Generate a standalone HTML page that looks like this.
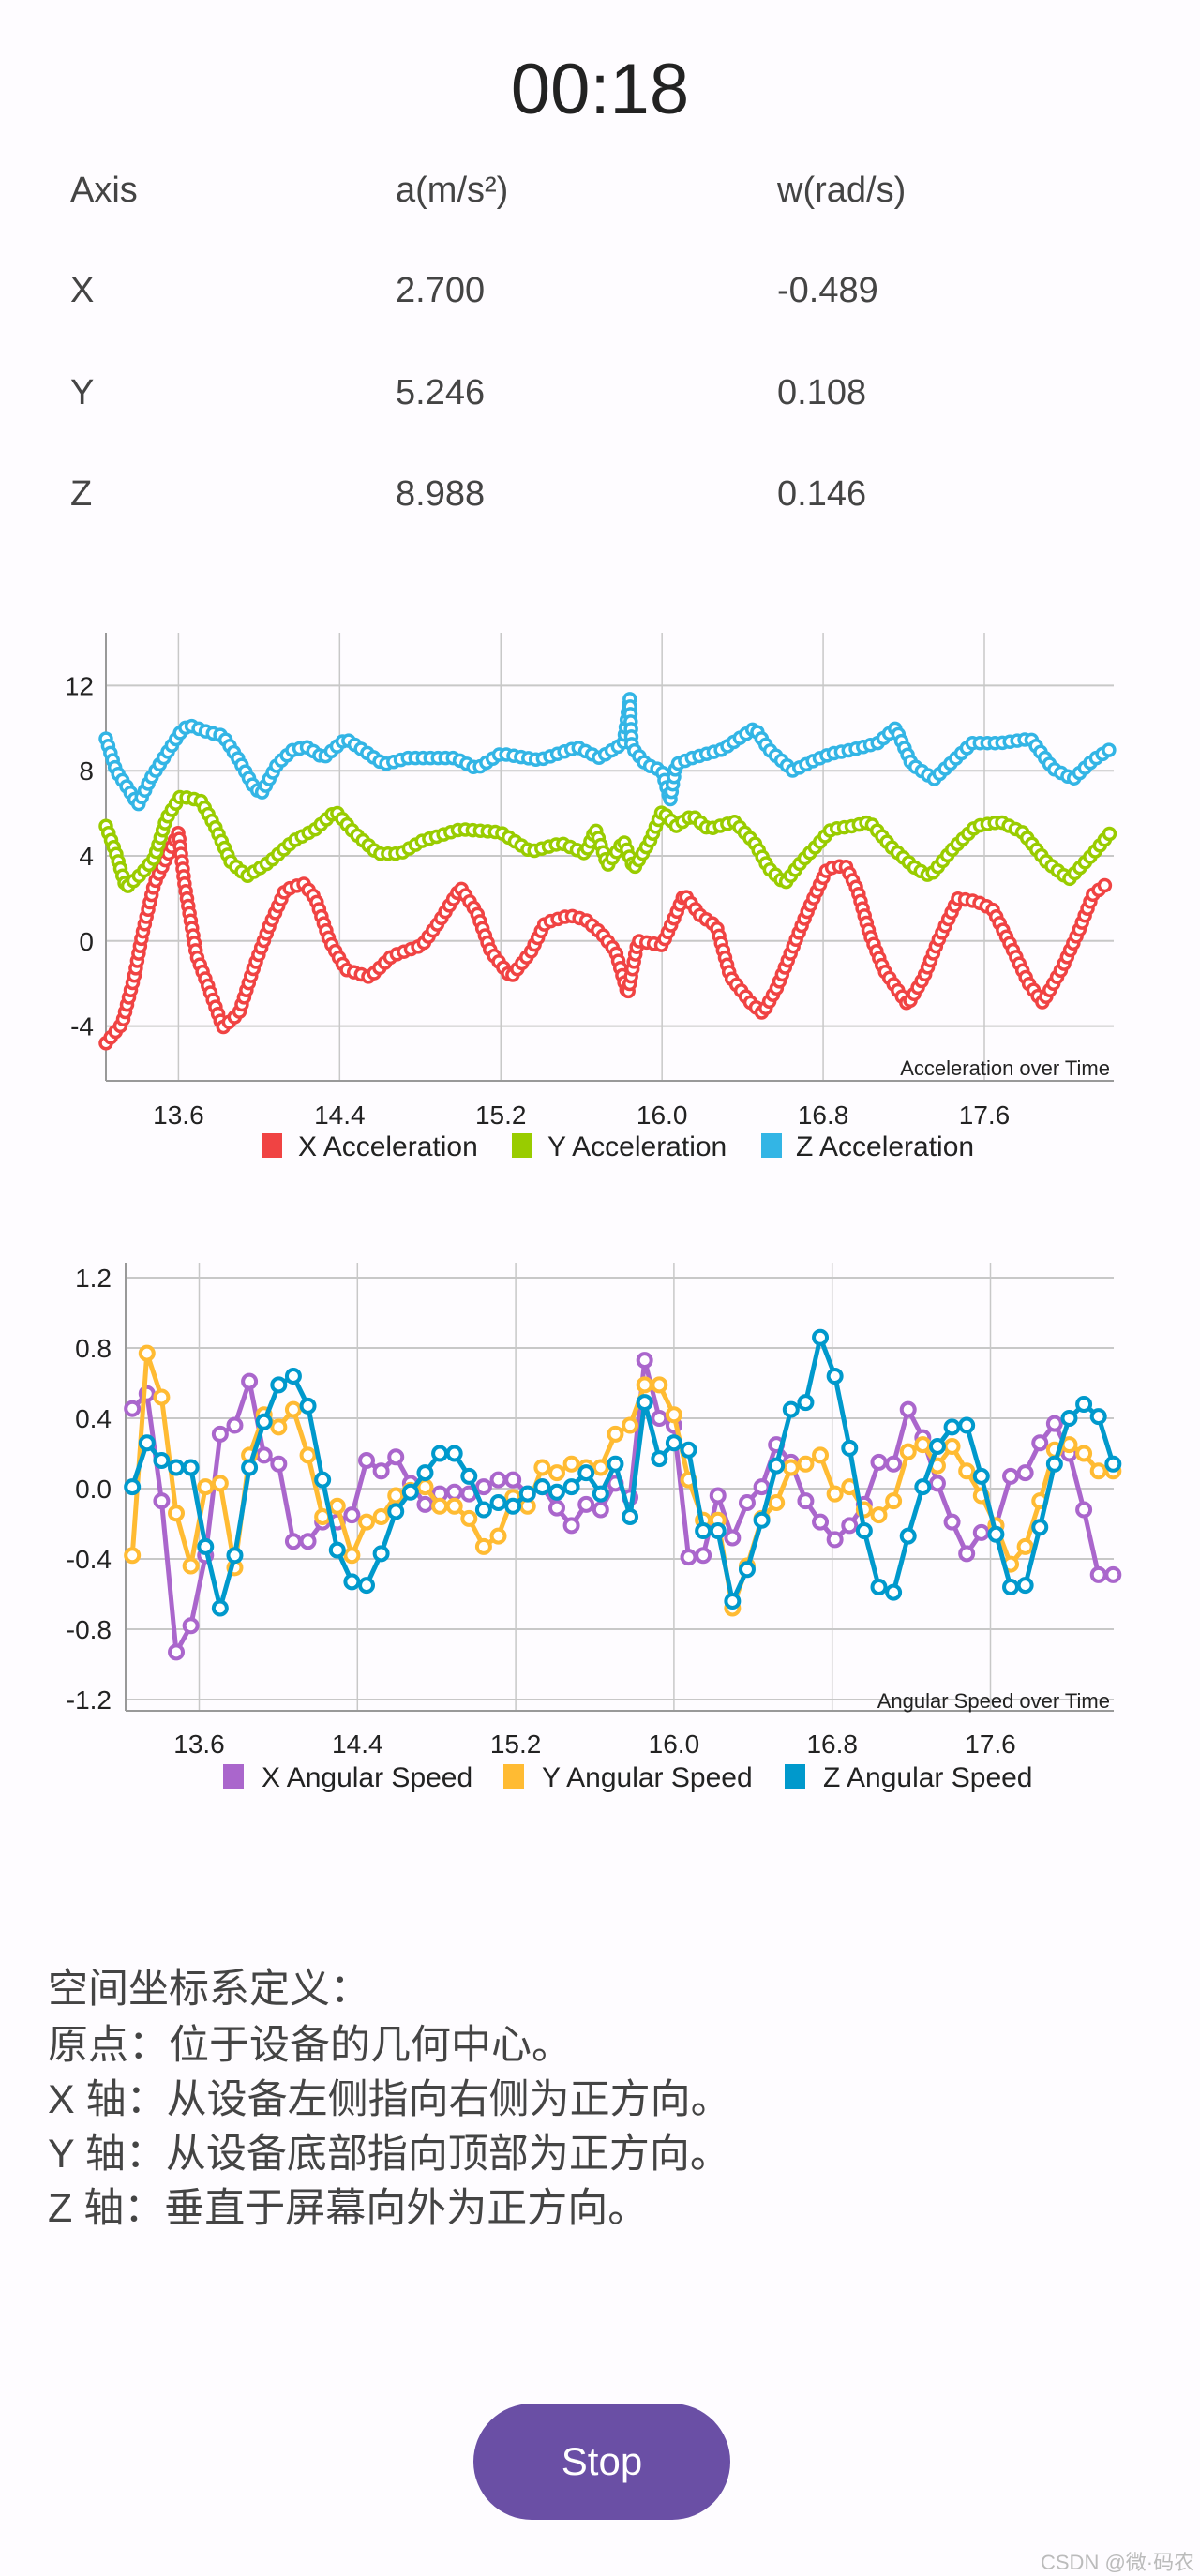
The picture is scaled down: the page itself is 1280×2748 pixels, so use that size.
<!DOCTYPE html>
<html><head><meta charset="utf-8">
<style>
html,body{margin:0;padding:0;background:#fefcff;}
body{width:1280px;height:2747px;position:relative;overflow:hidden;font-family:"Liberation Sans","Noto Sans CJK SC",sans-serif;color:#444;}
.abs{position:absolute;white-space:nowrap;}
.cell{font-size:38px;line-height:40px;}
.cn{font-size:43px;left:51px;line-height:50px;color:#444;}
</style></head><body>
<div class="abs" style="left:0;width:1280px;text-align:center;top:56px;font-size:76px;line-height:80px;color:#222;">00:18</div>

<div class="abs cell" style="left:75px;top:183px;">Axis</div>
<div class="abs cell" style="left:422px;top:183px;">a(m/s²)</div>
<div class="abs cell" style="left:829px;top:183px;">w(rad/s)</div>
<div class="abs cell" style="left:75px;top:290px;">X</div>
<div class="abs cell" style="left:422px;top:290px;">2.700</div>
<div class="abs cell" style="left:829px;top:290px;">-0.489</div>
<div class="abs cell" style="left:75px;top:399px;">Y</div>
<div class="abs cell" style="left:422px;top:399px;">5.246</div>
<div class="abs cell" style="left:829px;top:399px;">0.108</div>
<div class="abs cell" style="left:75px;top:507px;">Z</div>
<div class="abs cell" style="left:422px;top:507px;">8.988</div>
<div class="abs cell" style="left:829px;top:507px;">0.146</div>

<svg id="charts" width="1280" height="2000" style="position:absolute;left:0;top:0;" xmlns="http://www.w3.org/2000/svg"></svg>

<div class="abs cn" style="top:2097px;">空间坐标系定义：</div>
<div class="abs cn" style="top:2157px;">原点：位于设备的几何中心。</div>
<div class="abs cn" style="top:2215px;">X 轴：从设备左侧指向右侧为正方向。</div>
<div class="abs cn" style="top:2273px;">Y 轴：从设备底部指向顶部为正方向。</div>
<div class="abs cn" style="top:2331px;">Z 轴：垂直于屏幕向外为正方向。</div>

<div class="abs" style="left:505px;top:2564px;width:274px;height:124px;border-radius:62px;background:#6a4fa5;color:#fff;font-size:42px;line-height:124px;text-align:center;">Stop</div>
<div class="abs" style="left:1110px;top:2716px;font-size:22px;color:#bbb;">CSDN @微·码农</div>

<script>
// ---------- Acceleration chart data ----------
const accXTimes = [13.24,13.32,13.38,13.42,13.48,13.53,13.6,13.63,13.69,13.75,13.82,13.9,13.97,14.05,14.13,14.22,14.28,14.35,14.43,14.55,14.66,14.81,14.89,15.0,15.08,15.15,15.25,15.35,15.42,15.54,15.62,15.7,15.77,15.83,15.88,16.0,16.08,16.11,16.19,16.27,16.34,16.44,16.5,16.57,16.65,16.72,16.82,16.91,16.97,17.03,17.1,17.22,17.3,17.37,17.47,17.56,17.64,17.72,17.82,17.89,17.99,18.07,18.14,18.21];
const accXValues = [-4.8,-3.9,-1.7,0.3,2.7,3.7,5.1,2.7,-0.7,-2.2,-4.06,-3.4,-1.35,0.68,2.4,2.7,2.0,0,-1.35,-1.7,-0.7,-0.2,0.85,2.5,1.35,-0.5,-1.7,-0.5,0.85,1.2,1.0,0.35,-0.5,-2.5,0,-0.2,1.5,2.2,1.2,0.7,-1.7,-2.9,-3.4,-2.2,-0.3,1.35,3.4,3.55,2.4,0.35,-1.35,-3.0,-1.7,0,2.0,1.86,1.5,0,-2.0,-2.9,-1.2,0.5,2.2,2.7];
const accYTimes = [13.24,13.29,13.34,13.42,13.48,13.54,13.61,13.71,13.78,13.86,13.94,14.05,14.17,14.28,14.38,14.47,14.59,14.7,14.81,15.0,15.2,15.35,15.5,15.62,15.67,15.73,15.81,15.86,15.94,16.0,16.07,16.15,16.23,16.36,16.46,16.53,16.61,16.69,16.76,16.84,16.95,17.03,17.14,17.26,17.33,17.45,17.56,17.68,17.79,17.91,18.02,18.14,18.24];
const accYValues = [5.4,4.1,2.5,3.2,3.9,5.75,6.8,6.6,5.4,3.7,3.05,3.7,4.7,5.25,6.1,5.1,4.1,4.1,4.7,5.25,5.1,4.2,4.6,4.1,5.25,3.55,4.7,3.4,4.7,6.1,5.4,5.9,5.25,5.6,4.6,3.4,2.7,3.7,4.4,5.25,5.4,5.6,4.4,3.4,3.05,4.4,5.4,5.6,5.1,3.7,2.9,4.1,5.25];
const accZTimes = [13.24,13.29,13.34,13.4,13.46,13.52,13.61,13.65,13.75,13.82,13.9,13.97,14.01,14.09,14.17,14.24,14.32,14.43,14.51,14.62,14.74,14.85,14.97,15.08,15.2,15.39,15.58,15.69,15.81,15.84,15.85,15.92,16.0,16.04,16.07,16.15,16.3,16.46,16.53,16.65,16.76,16.84,16.95,17.07,17.16,17.24,17.35,17.45,17.54,17.68,17.83,17.94,18.04,18.14,18.24];
const accZValues = [9.5,8.0,7.3,6.4,7.6,8.5,9.8,10.15,9.8,9.65,8.5,7.3,6.9,8.3,9.0,9.1,8.6,9.5,9.0,8.3,8.6,8.6,8.6,8.1,8.8,8.5,9.1,8.6,9.3,11.4,9.1,8.3,8.0,6.6,8.3,8.6,9.0,10.0,9.0,8.0,8.5,8.8,9.0,9.3,10.0,8.3,7.6,8.5,9.3,9.3,9.5,8.1,7.6,8.5,9.1];
const accYTicks = [-4,0,4,8,12];
const accXTicks = [13.6,14.4,15.2,16.0,16.8,17.6];
const accXTickLabels = ["13.6","14.4","15.2","16.0","16.8","17.6"];

// ---------- Angular speed chart data ----------
const angStart = 13.262;
const angStep = 0.074;
const angXValues = [0.455,0.54,-0.07,-0.93,-0.78,-0.38,0.31,0.36,0.61,0.19,0.14,-0.30,-0.30,-0.19,-0.19,-0.15,0.16,0.10,0.18,0.03,-0.09,-0.03,-0.02,-0.03,0.01,0.05,0.05,-0.03,0.01,-0.11,-0.21,-0.09,-0.12,0.03,-0.05,0.73,0.40,0.36,-0.39,-0.38,-0.04,-0.28,-0.08,0.01,0.25,0.15,-0.07,-0.19,-0.29,-0.21,-0.09,0.15,0.14,0.45,0.29,0.03,-0.19,-0.37,-0.25,-0.21,0.07,0.09,0.26,0.37,0.20,-0.12,-0.49,-0.49];
const angYValues = [-0.38,0.77,0.52,-0.14,-0.44,0.01,0.03,-0.45,0.19,0.42,0.35,0.45,0.19,-0.16,-0.10,-0.38,-0.19,-0.16,-0.04,-0.01,0.01,-0.10,-0.10,-0.17,-0.33,-0.27,-0.05,-0.10,0.12,0.09,0.14,0.12,0.12,0.31,0.36,0.59,0.59,0.42,0.05,-0.18,-0.18,-0.68,-0.44,-0.17,-0.08,0.12,0.14,0.19,-0.03,0.01,-0.12,-0.15,-0.07,0.21,0.25,0.13,0.24,0.10,-0.04,-0.21,-0.43,-0.33,-0.07,0.22,0.25,0.20,0.10,0.10];
const angZValues = [0.01,0.26,0.16,0.12,0.12,-0.33,-0.68,-0.38,0.12,0.38,0.59,0.64,0.47,0.05,-0.35,-0.53,-0.55,-0.37,-0.13,-0.02,0.09,0.20,0.20,0.07,-0.12,-0.08,-0.10,-0.03,0.01,-0.02,0.01,0.09,-0.03,0.14,-0.16,0.49,0.17,0.26,0.22,-0.24,-0.24,-0.64,-0.46,-0.18,0.13,0.45,0.49,0.86,0.64,0.23,-0.24,-0.56,-0.59,-0.27,0.01,0.24,0.35,0.36,0.07,-0.26,-0.56,-0.55,-0.22,0.14,0.40,0.48,0.41,0.14];
const angYTicks = [-1.2,-0.8,-0.4,0.0,0.4,0.8,1.2];
const angYTickLabels = ["-1.2","-0.8","-0.4","0.0","0.4","0.8","1.2"];
const angXTicks = [13.6,14.4,15.2,16.0,16.8,17.6];
const angXTickLabels = ["13.6","14.4","15.2","16.0","16.8","17.6"];

const NS = "http://www.w3.org/2000/svg";
const svg = document.getElementById('charts');
function mk(tag, attrs, parent){ const e=document.createElementNS(NS,tag); for(const k in attrs) e.setAttribute(k,attrs[k]); (parent||svg).appendChild(e); return e; }

const ax1 = { x: t => 190.4 + (t-13.6)*214.9, y: v => 1003.8 - v*22.7, left:113, right:1188, top:675, bottom:1153 };
const ax2 = { x: t => 212.5 + (t-13.6)*211.0, y: v => 1588 - v*187.5, left:134, right:1188, top:1347, bottom:1825 };

function drawFrame(ax, yTicks, yLabels, xTicks, xLabels, labelRight, xLabelY, prefix){
  xTicks.forEach((t,i)=>{
    const g = mk('line',{x1:ax.x(t),x2:ax.x(t),y1:ax.top,y2:ax.bottom,stroke:'#c8c8c8','stroke-width':1.5});
    
    
    const tx = mk('text',{x:ax.x(t),y:xLabelY,'text-anchor':'middle','font-size':28,fill:'#222','font-family':'Liberation Sans, sans-serif'});
    tx.textContent = xLabels[i];
    
    
  });
  yTicks.forEach((v,i)=>{
    const g = mk('line',{x1:ax.left,x2:ax.right,y1:ax.y(v),y2:ax.y(v),stroke:'#c8c8c8','stroke-width':2});
    
    
    const tx = mk('text',{x:labelRight,y:ax.y(v)+10,'text-anchor':'end','font-size':28,fill:'#222','font-family':'Liberation Sans, sans-serif'});
    tx.textContent = yLabels[i];
    
    
  });
  const a1 = mk('line',{x1:ax.left,x2:ax.left,y1:ax.top,y2:ax.bottom,stroke:'#999','stroke-width':2});
  
  
  const a2 = mk('line',{x1:ax.left,x2:ax.right,y1:ax.bottom,y2:ax.bottom,stroke:'#999','stroke-width':2});
  
  
}

function drawDenseSeries(ax, times, vals, color, name){
  const d = times.map((t,i)=>(i?'L':'M')+ax.x(t).toFixed(1)+','+ax.y(vals[i]).toFixed(1)).join(' ');
  const p = mk('path',{d:d,fill:'none',stroke:color,'stroke-width':4,'stroke-linejoin':'round'});
  
  
  const L = p.getTotalLength();
  for(let s=0; s<=L; s+=8){
    const pt = p.getPointAtLength(s);
    const c = mk('circle',{cx:pt.x,cy:pt.y,r:6,fill:'#fff',stroke:color,'stroke-width':3.5});
    
    
  }
}

function drawSeries(ax, vals, color, name){
  const xs = vals.map((v,i)=>ax.x(angStart + i*angStep));
  const d = vals.map((v,i)=>(i?'L':'M')+xs[i].toFixed(1)+','+ax.y(v).toFixed(1)).join(' ');
  const p = mk('path',{d:d,fill:'none',stroke:color,'stroke-width':5,'stroke-linejoin':'round'});
  
  
  vals.forEach((v,i)=>{
    const c = mk('circle',{cx:xs[i],cy:ax.y(v),r:7,fill:'#fff',stroke:color,'stroke-width':4});
    
    
  });
}

function legend(items, y){
  items.forEach(it=>{
    const r = mk('rect',{x:it.sx,y:y-13,width:22,height:26,fill:it.color});
    
    
    const t = mk('text',{x:it.tx,y:y+11,'font-size':30,fill:'#222','font-family':'Liberation Sans, sans-serif'});
    t.textContent = it.label;
    
    
  });
}

drawFrame(ax1, accYTicks, accYTicks.map(String), accXTicks, accXTickLabels, 100, 1199, 'accel');
drawDenseSeries(ax1, accXTimes, accXValues, '#f04343', 'x-accel');
drawDenseSeries(ax1, accYTimes, accYValues, '#99cc00', 'y-accel');
drawDenseSeries(ax1, accZTimes, accZValues, '#33b5e5', 'z-accel');
const t1 = mk('text',{x:1184,y:1147,'text-anchor':'end','font-size':22,fill:'#222','font-family':'Liberation Sans, sans-serif'});
t1.textContent = 'Acceleration over Time';


legend([{sx:279,tx:318,color:'#f04343',label:'X Acceleration',name:'x-accel'},{sx:546,tx:584,color:'#99cc00',label:'Y Acceleration',name:'y-accel'},{sx:812,tx:849,color:'#33b5e5',label:'Z Acceleration',name:'z-accel'}],1222);

drawFrame(ax2, angYTicks, angYTickLabels, angXTicks, angXTickLabels, 119, 1870, 'angular');
drawSeries(ax2, angXValues, '#aa66cc', 'x-angular');
drawSeries(ax2, angYValues, '#ffbb33', 'y-angular');
drawSeries(ax2, angZValues, '#0099cc', 'z-angular');
const t2 = mk('text',{x:1184,y:1822,'text-anchor':'end','font-size':22,fill:'#222','font-family':'Liberation Sans, sans-serif'});
t2.textContent = 'Angular Speed over Time';


legend([{sx:238,tx:279,color:'#aa66cc',label:'X Angular Speed',name:'x-angular'},{sx:537,tx:578,color:'#ffbb33',label:'Y Angular Speed',name:'y-angular'},{sx:837,tx:878,color:'#0099cc',label:'Z Angular Speed',name:'z-angular'}],1895);
</script>
</body></html>
